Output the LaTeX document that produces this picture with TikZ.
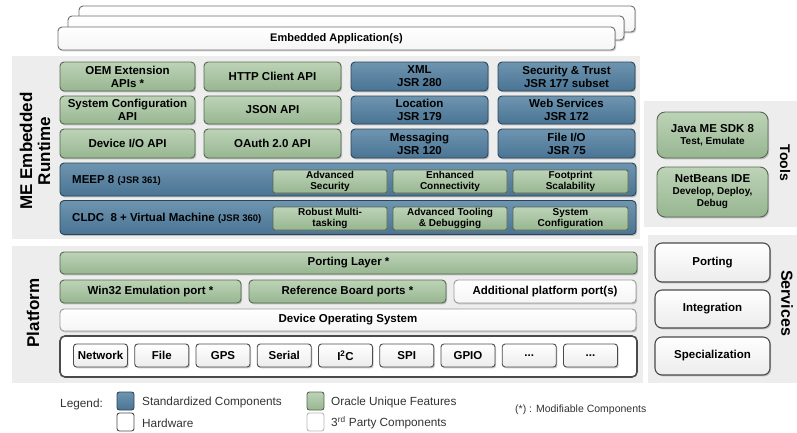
\documentclass[tikz,border=0pt]{standalone}
\usepackage{fontspec}
\setmainfont{Liberation Sans}
\usetikzlibrary{shadows}
\definecolor{stdblue}{HTML}{4A7494}
\definecolor{stdbluetop}{HTML}{6E95B0}
\definecolor{stdblueline}{HTML}{2C4456}
\definecolor{orgreen}{HTML}{97B691}
\definecolor{orgreentop}{HTML}{BDD3B7}
\definecolor{orgreenline}{HTML}{55684F}
\definecolor{panelgray}{HTML}{EDEDED}
\definecolor{thirdline}{HTML}{9A9A9A}
\definecolor{hwline}{HTML}{4A4A4A}
\definecolor{legendtext}{HTML}{333333}
\newcommand\hwdots{...}
\begin{document}
\begin{tikzpicture}[x=1pt,y=-1pt,
  wh/.style 2 args={minimum width=#1,minimum height=#2},
  bx/.style={rounded corners=4pt,line width=0.9pt,align=center,inner sep=0pt,
    font=\bfseries\fontsize{11.5}{13}\selectfont,
    drop shadow={shadow xshift=1.2pt,shadow yshift=-1.4pt,opacity=0.4}},
  stdbox/.style={bx,draw=stdblueline,top color=stdbluetop,bottom color=stdblue},
  orbox/.style={bx,draw=orgreenline,top color=orgreentop,bottom color=orgreen},
  subbox/.style={orbox,rounded corners=2pt,font=\bfseries\fontsize{10}{11.5}\selectfont},
  thirdbox/.style={bx,draw=thirdline,top color=white,bottom color=gray!8},
  hwbox/.style={bx,draw=hwline,top color=white,bottom color=gray!15,rounded corners=3pt},
  svcbox/.style={hwbox,rounded corners=7pt,line width=1.1pt},
  sidelabel/.style={font=\bfseries\fontsize{17}{18}\selectfont,align=center,inner sep=0pt},
  legendtxt/.style={anchor=west,inner sep=0pt,text=legendtext,font=\fontsize{11.8}{12}\selectfont},
  keybox/.style={wh={17}{18},rounded corners=2.5pt,line width=0.9pt,inner sep=0pt}
]
\useasboundingbox (0,0) rectangle (797,432);

% background panels
\fill[panelgray] (12,56) rectangle (640,239);
\fill[panelgray] (644,101) rectangle (797,227);
\fill[panelgray] (648,235) rectangle (797,383);
\fill[panelgray] (12,246) rectangle (643,383);

% application stack
\node[thirdbox,draw=hwline!80,wh={556}{26}] (app3) at (357,19) {};
\node[thirdbox,draw=hwline!80,wh={556}{24}] (app2) at (346,28) {};
\node[thirdbox,draw=hwline!80,wh={557}{23},font=\bfseries\fontsize{11}{12}\selectfont] (app1) at (336.5,38.5) {Embedded Application(s)};

% runtime
\node[sidelabel,rotate=90] (rtlabel) at (35,151) {ME Embedded\\Runtime};

\node[orbox,wh={135}{29}] (oem) at (127.5,76.5) {OEM Extension\\APIs *};
\node[orbox,wh={137}{29}] (http) at (272.5,76.5) {HTTP Client API};
\node[stdbox,wh={137}{29}] (xml) at (419.5,76.5) {XML\\JSR 280};
\node[stdbox,wh={137}{29}] (sectrust) at (566.5,76.5) {Security \& Trust\\JSR 177 subset};

\node[orbox,wh={135}{28}] (sysapi) at (127.5,110) {System Configuration\\API};
\node[orbox,wh={137}{28}] (json) at (272.5,110) {JSON API};
\node[stdbox,wh={137}{28}] (location) at (419.5,110) {Location\\JSR 179};
\node[stdbox,wh={137}{28}] (websvc) at (566.5,110) {Web Services\\JSR 172};

\node[orbox,wh={135}{29}] (deviceio) at (127.5,143.5) {Device I/O API};
\node[orbox,wh={137}{29}] (oauth) at (272.5,143.5) {OAuth 2.0 API};
\node[stdbox,wh={137}{29}] (messaging) at (419.5,143.5) {Messaging\\JSR 120};
\node[stdbox,wh={137}{29}] (fileio) at (566.5,143.5) {File I/O\\JSR 75};

\node[stdbox,wh={576}{33}] (meep) at (348,179.5) {};
\node[anchor=west,inner sep=0pt,font=\bfseries\fontsize{11.5}{13}\selectfont] (meeptxt) at (72,180.5)
  {MEEP 8 {\fontsize{9.5}{11}\selectfont(JSR 361)}};
\node[subbox,wh={114}{23}] (advsec) at (330,181.5) {Advanced\\Security};
\node[subbox,wh={114}{23}] (enhconn) at (450,181.5) {Enhanced\\Connectivity};
\node[subbox,wh={115}{23}] (footprint) at (570.5,181.5) {Footprint\\Scalability};

\node[stdbox,wh={576}{34}] (cldc) at (348,217.5) {};
\node[anchor=west,inner sep=0pt,font=\bfseries\fontsize{11.5}{13}\selectfont] (cldctxt) at (72,218.5)
  {CLDC\ \ 8 + Virtual Machine {\fontsize{9.5}{11}\selectfont(JSR 360)}};
\node[subbox,wh={114}{23}] (robust) at (330,218.5) {Robust Multi-\\tasking};
\node[subbox,wh={114}{23}] (tooling) at (450,218.5) {Advanced Tooling\\\& Debugging};
\node[subbox,wh={115}{23}] (sysconfig) at (570.5,218.5) {System\\Configuration};

% tools
\node[sidelabel,rotate=-90,font=\bfseries\fontsize{14}{15}\selectfont] (toolslabel) at (785,163) {Tools};
\node[orbox,rounded corners=8pt,wh={111}{46}] (mesdk) at (712.5,135)
  {Java ME SDK 8\\[-1pt]{\fontsize{10}{11}\selectfont Test, Emulate}};
\node[orbox,rounded corners=8pt,wh={111}{50}] (netbeans) at (712.5,192)
  {NetBeans IDE\\[-1pt]{\fontsize{10}{11}\selectfont Develop, Deploy,}\\[-1pt]{\fontsize{10}{11}\selectfont Debug}};

% services
\node[sidelabel,rotate=-90,font=\bfseries\fontsize{16}{17}\selectfont] (svclabel) at (787,303) {Services};
\node[svcbox,wh={115}{39}] (porting) at (712.5,262.5) {Porting};
\node[svcbox,wh={115}{38}] (integration) at (712.5,309) {Integration};
\node[svcbox,wh={115}{38}] (specialization) at (712.5,356) {Specialization};

% platform
\node[sidelabel,rotate=90] (platlabel) at (33,313) {Platform};
\node[orbox,wh={577}{22}] (portlayer) at (348.5,263) {Porting Layer *};
\node[orbox,wh={181}{23}] (win32) at (150.5,291.5) {Win32 Emulation port *};
\node[orbox,wh={197}{23}] (refboard) at (347.5,291.5) {Reference Board ports *};
\node[thirdbox,wh={182}{23}] (addport) at (545,291.5) {Additional platform port(s)};
\node[thirdbox,wh={576}{22}] (devos) at (348,320) {Device Operating System};
\node[wh={577}{41},draw=hwline,line width=1.6pt,rounded corners=5pt,fill=white] (hwbus) at (348.5,356.5) {};
\foreach \lbl [count=\i from 0] in {Network,File,GPS,Serial,{I\textsuperscript{2}C},SPI,GPIO,\hwdots,\hwdots}
  \node[hwbox,wh={54}{23}] (hw\i) at ({100.5+61.25*\i},355.5) {\lbl};

% legend
\node[legendtxt] (legend) at (60,404) {Legend:};
\node[keybox,draw=stdblueline,top color=stdbluetop,bottom color=stdblue] (keystd) at (125.5,401) {};
\node[legendtxt] (keystdtxt) at (142,402) {Standardized Components};
\node[keybox,draw=orgreenline,top color=orgreentop,bottom color=orgreen] (keyor) at (315.5,401) {};
\node[legendtxt] (keyortxt) at (331,402) {Oracle Unique Features};
\node[keybox,draw=hwline,fill=white] (keyhw) at (125.5,422) {};
\node[legendtxt] (keyhwtxt) at (142,423) {Hardware};
\node[keybox,draw=thirdline!70,fill=white] (key3rd) at (315.5,422) {};
\node[legendtxt] (key3rdtxt) at (331,423) {3\textsuperscript{rd} Party Components};
\node[legendtxt,font=\fontsize{10.5}{12}\selectfont] (modnote) at (515,410) {(*) : Modifiable Components};
\end{tikzpicture}
\end{document}
